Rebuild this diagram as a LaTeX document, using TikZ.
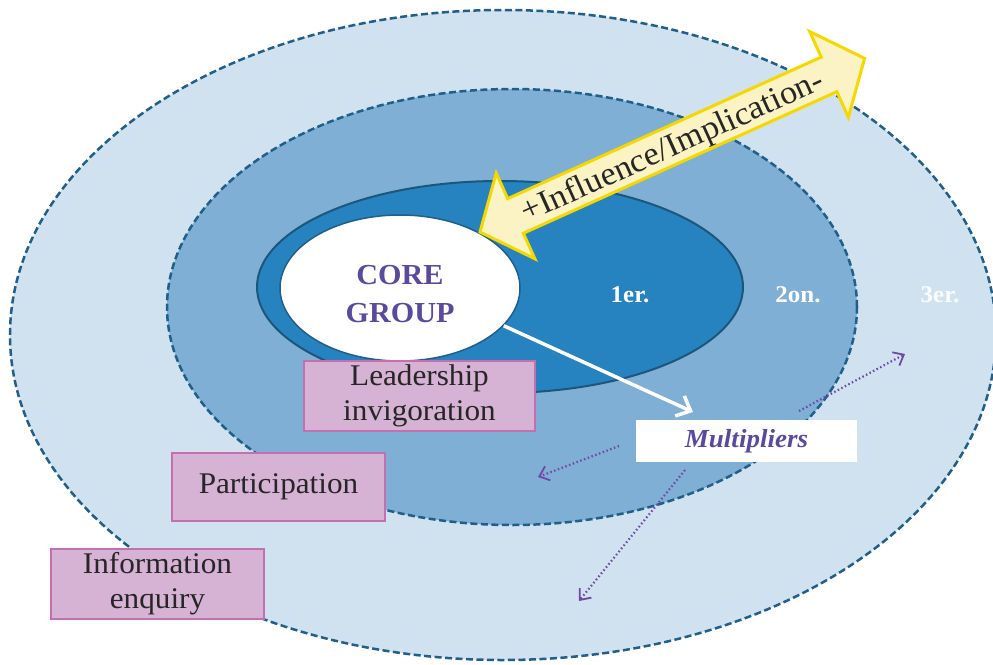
\documentclass[tikz,border=0pt]{standalone}
\usepackage{fontspec}
\setmainfont{Liberation Serif}[FakeStretch=1.04]
\usetikzlibrary{shapes.geometric,arrows.meta}
\definecolor{outerblue}{HTML}{D0E2EF}
\definecolor{midblue}{HTML}{7FAFD4}
\definecolor{innerblue}{HTML}{2683C0}
\definecolor{edgeblue}{HTML}{1F5F8A}
\definecolor{corepurple}{HTML}{5A4A9E}
\definecolor{boxfill}{HTML}{D6B2D4}
\definecolor{boxedge}{HTML}{C46FB0}
\definecolor{arrowfill}{HTML}{FBF3C4}
\definecolor{arrowedge}{HTML}{F5D800}
\definecolor{dotpurple}{HTML}{7048A8}
\tikzset{
  ring/.style={ellipse, inner sep=0pt, draw=edgeblue},
  pinkbox/.style={rectangle, fill=boxfill, draw=boxedge, line width=2.5pt, align=center,
    inner sep=0pt, font=\fontsize{30}{35}\selectfont, text=black!85},
  ringlabel/.style={font=\fontsize{24}{28}\selectfont\bfseries, text=white},
  dotarrow/.style={dotpurple, line width=2.2pt, dash pattern=on 1.5pt off 2.5pt, -{Straight Barb[length=9pt,width=15pt,line width=1.8pt]}}
}
\begin{document}
\begin{tikzpicture}[x=1pt,y=-1pt]
\useasboundingbox (0,0) rectangle (993,664);
\clip (0,0) rectangle (993,664);
\fill[white] (0,0) rectangle (993,664);
% rings
\node[ring, fill=outerblue, line width=2.5pt, dash pattern=on 7pt off 3.5pt,
  minimum width=986pt, minimum height=650pt] (outer) at (503,335) {};
\node[ring, fill=midblue, line width=2.5pt, dash pattern=on 7pt off 3.5pt,
  minimum width=690pt, minimum height=436pt] (middle) at (512,307) {};
\node[ring, fill=innerblue, line width=2pt, draw=edgeblue!90!black,
  minimum width=486pt, minimum height=212pt] (inner) at (500,287) {};
\node[ring, fill=white, line width=1.5pt,
  minimum width=240pt, minimum height=146pt] (core) at (400,288) {};
\node[font=\fontsize{29}{38}\selectfont\bfseries, text=corepurple, align=center] (coretext) at (400,294) {CORE\\GROUP};
% ring labels
\node[ringlabel] (l1) at (630,295) {1er.};
\node[ringlabel] (l2) at (798,295) {2on.};
\node[ringlabel, text=white!90!outerblue] (l3) at (940,295) {3er.};
% white arrow
\coordinate (wtip) at (693,412);
\draw[white, line width=3.5pt, -{Straight Barb[length=12pt,width=22pt,line width=3.5pt]}] (core.-20) -- (wtip);
% boxes
\node[pinkbox, minimum width=231pt, minimum height=70pt] (lead) at (419.5,396) {Leadership\\invigoration};
\node[pinkbox, minimum width=213pt, minimum height=68pt] (part) at (278.5,487) {Participation};
\node[pinkbox, minimum width=213pt, minimum height=70pt] (info) at (157.5,584) {Information\\enquiry};
% multipliers
\node[rectangle, fill=white, minimum width=221pt, minimum height=42pt, inner sep=0pt,
  font=\fontsize{26}{30}\selectfont\bfseries\itshape, text=corepurple] (mult) at (746.5,441) {Multipliers};
% dotted arrows
\coordinate (d1s) at (799,411); \coordinate (d1e) at (905,354);
\coordinate (d2s) at (619,446); \coordinate (d2e) at (538,477);
\coordinate (d3s) at (685,470); \coordinate (d3e) at (579,601);
\draw[dotarrow] (d1s) -- (d1e);
\draw[dotarrow] (d2s) -- (d2e);
\draw[dotarrow] (d3s) -- (d3e);
% influence double arrow
\begin{scope}[shift={(480,232)}, rotate=24.3]
\draw[fill=arrowfill, draw=arrowedge, line width=3pt, line join=miter]
  (0,0) -- (39,-47) -- (39,-19) -- (383,-19) -- (383,-47) -- (422,0)
  -- (383,47) -- (383,19) -- (39,19) -- (39,47) -- cycle;
\end{scope}
\node[rotate=24.3, font=\fontsize{33}{36}\selectfont, text=black!85, inner sep=0pt] (infl) at (673,148) {+Influence/Implication-};
\end{tikzpicture}
\end{document}
